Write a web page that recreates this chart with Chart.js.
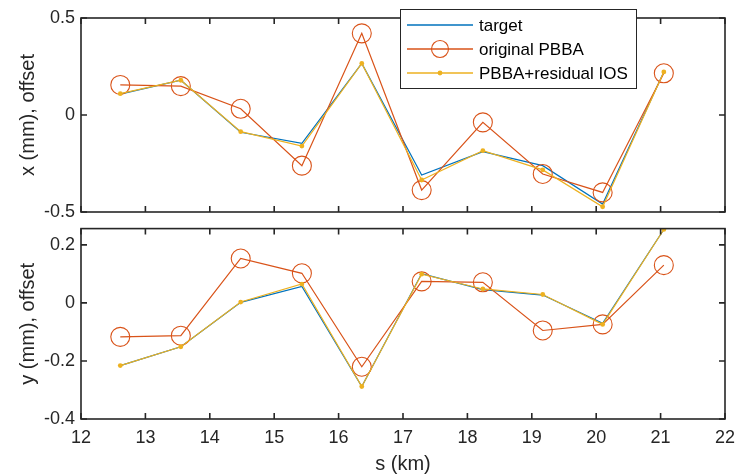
<!DOCTYPE html>
<html lang="en">
<head>
<meta charset="UTF-8">
<title>Offset comparison</title>
<script src="https://cdn.jsdelivr.net/npm/chart.js"></script>
<style>
  body { margin: 0; background: #fff; }
  #wrap { position: relative; width: 749px; height: 474px; }
  #topChart { position: absolute; left: 0; top: 0; }
  #bottomChart { position: absolute; left: 0; top: 218px; }
</style>
</head>
<body>
<div id="wrap">
  <canvas id="topChart" width="749" height="230"></canvas>
  <canvas id="bottomChart" width="749" height="256"></canvas>
</div>
<script>
// positions along the line (km)
const s = [12.61, 13.55, 14.48, 15.43, 16.36, 17.29, 18.24, 19.17, 20.10, 21.05];

// horizontal offsets (mm)
const xTarget   = [0.108, 0.179, -0.089, -0.146, 0.266, -0.309, -0.189, -0.261, -0.459, 0.222];
const xOriginal = [0.155, 0.149, 0.032, -0.261, 0.421, -0.387, -0.038, -0.304, -0.399, 0.215];
const xResidual = [0.110, 0.179, -0.086, -0.160, 0.266, -0.335, -0.184, -0.283, -0.473, 0.222];

// vertical offsets (mm)
const yTarget   = [-0.216, -0.151, 0.002, 0.057, -0.288, 0.101, 0.046, 0.027, -0.070, 0.253];
const yOriginal = [-0.117, -0.113, 0.153, 0.102, -0.220, 0.074, 0.071, -0.095, -0.074, 0.130];
const yResidual = [-0.216, -0.151, 0.003, 0.065, -0.288, 0.099, 0.048, 0.029, -0.074, 0.253];

const sTicks = [12, 13, 14, 15, 16, 17, 18, 19, 20, 21, 22];
const xOffsetTicks = [-0.5, 0, 0.5];
const yOffsetTicks = [-0.4, -0.2, 0, 0.2];

const seriesNames = ['target', 'original PBBA', 'PBBA+residual IOS'];

const BLUE = '#0072BD';
const RED = '#D95319';
const YELLOW = '#EDB120';
const AXIS = '#262626';
const FONT = "'Liberation Sans', Arial, sans-serif";

function pts(xs, ys) {
  return xs.map((v, i) => ({ x: v, y: ys[i] }));
}

function makeDatasets(target, original, residual) {
  return [
    {
      label: seriesNames[0], data: pts(s, target),
      borderColor: BLUE, borderWidth: 1.2, pointRadius: 0, order: 3
    },
    {
      label: seriesNames[1], data: pts(s, original),
      borderColor: RED, borderWidth: 1.2,
      pointStyle: 'circle', pointRadius: 9.5, pointBorderWidth: 1.1,
      pointBorderColor: RED, pointBackgroundColor: 'rgba(0,0,0,0)', order: 2
    },
    {
      label: seriesNames[2], data: pts(s, residual),
      borderColor: YELLOW, borderWidth: 1.2,
      pointRadius: 2.4, pointBorderWidth: 0,
      pointBackgroundColor: YELLOW, order: 1
    }
  ];
}

// MATLAB-like box with inward ticks on all four sides
const framePlugin = {
  id: 'frame',
  afterDraw(chart) {
    const { ctx, chartArea: a, scales } = chart;
    ctx.save();
    ctx.strokeStyle = AXIS;
    ctx.lineWidth = 1.6;
    ctx.strokeRect(a.left, a.top, a.right - a.left, a.bottom - a.top);
    const len = 6;
    ctx.beginPath();
    scales.x.ticks.forEach(t => {
      const px = scales.x.getPixelForValue(t.value);
      ctx.moveTo(px, a.bottom); ctx.lineTo(px, a.bottom - len);
      ctx.moveTo(px, a.top); ctx.lineTo(px, a.top + len);
    });
    scales.y.ticks.forEach(t => {
      const py = scales.y.getPixelForValue(t.value);
      ctx.moveTo(a.left, py); ctx.lineTo(a.left + len, py);
      ctx.moveTo(a.right, py); ctx.lineTo(a.right - len, py);
    });
    ctx.stroke();
    ctx.restore();
  }
};

// legend box in the upper part of the top axes
const legendPlugin = {
  id: 'boxLegend',
  afterDraw(chart, args, opts) {
    if (!opts.show) return;
    const ctx = chart.ctx;
    const bx = 400, by = 9, bw = 236, bh = 79;
    ctx.save();
    ctx.fillStyle = '#fff';
    ctx.fillRect(bx, by, bw, bh);
    ctx.strokeStyle = AXIS;
    ctx.lineWidth = 1;
    ctx.strokeRect(bx + 0.5, by + 0.5, bw, bh);
    ctx.font = '17px ' + FONT;
    ctx.textBaseline = 'middle';
    ctx.textAlign = 'left';
    chart.data.datasets.forEach((ds, i) => {
      const y = by + 16 + i * 24;
      ctx.strokeStyle = ds.borderColor;
      ctx.lineWidth = 1.4;
      ctx.beginPath();
      ctx.moveTo(bx + 7, y); ctx.lineTo(bx + 73, y);
      ctx.stroke();
      const mx = bx + 40;
      if (ds.pointRadius > 5) {
        ctx.lineWidth = 1.1;
        ctx.beginPath();
        ctx.arc(mx, y, ds.pointRadius - 1, 0, Math.PI * 2);
        ctx.stroke();
      } else if (ds.pointRadius > 0) {
        ctx.fillStyle = ds.pointBackgroundColor;
        ctx.beginPath();
        ctx.arc(mx, y, ds.pointRadius, 0, Math.PI * 2);
        ctx.fill();
      }
      ctx.fillStyle = '#000';
      ctx.fillText(ds.label, bx + 79, y + 1);
    });
    ctx.restore();
  }
};

function makeChart(id, datasets, yTicks, yMin, yMax, yTitle, isBottom) {
  return new Chart(document.getElementById(id), {
    type: 'line',
    data: { datasets },
    options: {
      responsive: false,
      animation: false,
      events: [],
      layout: { padding: isBottom ? { top: 8, right: 24, bottom: 0, left: 0 } : { top: 18, right: 24, bottom: 18, left: 0 } },
      plugins: {
        legend: { display: false },
        tooltip: { enabled: false },
        boxLegend: { show: !isBottom }
      },
      scales: {
        x: {
          type: 'linear', min: 12, max: 22,
          afterBuildTicks: sc => { sc.ticks = sTicks.map(v => ({ value: v })); },
          afterFit: sc => {
            sc.height = isBottom ? 55 : 0;
            sc.paddingLeft = 0; sc.paddingRight = 0;
          },
          grid: { display: false, drawTicks: false },
          border: { display: false },
          ticks: {
            display: isBottom, padding: 8, color: AXIS,
            font: { family: FONT, size: 18 },
            maxRotation: 0, autoSkip: false
          },
          title: {
            display: isBottom, text: 's (km)', color: AXIS,
            font: { family: FONT, size: 20, lineHeight: 1 }, padding: { top: 0, bottom: 0 }
          }
        },
        y: {
          type: 'linear', min: yMin, max: yMax,
          afterBuildTicks: sc => { sc.ticks = yTicks.map(v => ({ value: v })); },
          afterFit: sc => {
            sc.width = 81;
            sc.paddingTop = 0; sc.paddingBottom = 0;
          },
          grid: { display: false, drawTicks: false },
          border: { display: false },
          ticks: {
            padding: 6, color: AXIS,
            font: { family: FONT, size: 18 },
            callback: v => String(v)
          },
          title: {
            display: true, text: yTitle, color: AXIS,
            font: { family: FONT, size: 20, lineHeight: 1.2 }, padding: { top: 16, bottom: 0 }
          }
        }
      }
    },
    plugins: [framePlugin, legendPlugin]
  });
}

makeChart('topChart', makeDatasets(xTarget, xOriginal, xResidual),
  xOffsetTicks, -0.5, 0.5, 'x (mm), offset', false);
makeChart('bottomChart', makeDatasets(yTarget, yOriginal, yResidual),
  yOffsetTicks, -0.4, 0.256, 'y (mm), offset', true);
</script>
</body>
</html>
